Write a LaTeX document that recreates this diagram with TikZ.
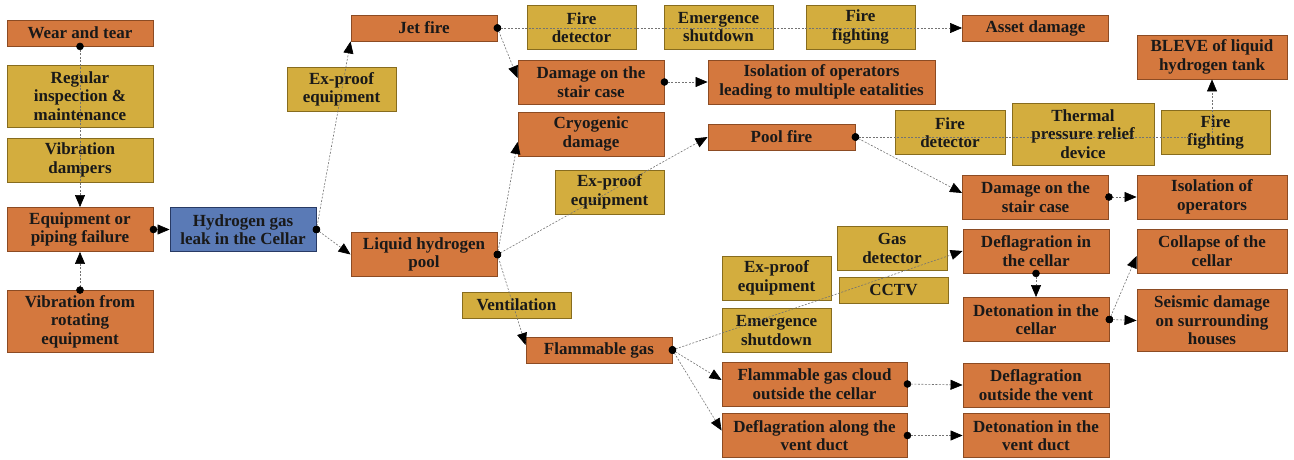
\documentclass[tikz,border=0pt]{standalone}
\usepackage{fontspec}
\setmainfont{Liberation Serif}
\usetikzlibrary{arrows.meta}

\definecolor{hazardfill}{RGB}{212,120,62}
\definecolor{hazardline}{RGB}{140,75,35}
\definecolor{barrierfill}{RGB}{211,173,62}
\definecolor{barrierline}{RGB}{135,108,30}
\definecolor{leakfill}{RGB}{90,122,182}
\definecolor{leakline}{RGB}{40,58,100}

\begin{document}
\begin{tikzpicture}[x=1pt, y=-1pt,
	cell/.style={line width=0.9pt, align=center, inner sep=0pt, minimum width=146pt,
		text=black!90, font=\fontsize{17}{18.5}\selectfont\bfseries},
	hazard/.style={cell, fill=hazardfill, draw=hazardline},
	barrier/.style={cell, fill=barrierfill, draw=barrierline, minimum width=109pt},
	leak/.style={cell, fill=leakfill, draw=leakline},
	h1/.style={minimum height=26pt},
	h2/.style={minimum height=44pt},
	h3/.style={minimum height=62pt},
	link/.style={draw=black!55, line width=0.6pt, dash pattern=on 2pt off 1.5pt,
		{Circle[length=7.5pt, color=black]}-{Triangle[length=12pt, width=10pt, color=black]},
		shorten <=-3.75pt}]
	      	\useasboundingbox (0,0) rectangle (1294,460);

	      	\node[hazard, h1]                     (wear)     at (80,33)      {Wear and tear};
	      	\node[barrier, h3, minimum width=146pt] (regular) at (80,96)      {Regular\\inspection \&\\maintenance};
	      	\node[barrier, h2, minimum width=146pt] (damper)  at (80,160)     {Vibration\\dampers};
	      	\node[hazard, h2]                     (equip)    at (80,229.5)   {Equipment or\\piping failure};
	      	\node[hazard, h3]                     (vibrot)   at (80,321.5)   {Vibration from\\rotating\\equipment};
	      	\node[leak, h2]                       (gasleak)  at (243,229.5)  {Hydrogen gas\\leak in the Cellar};

	      	\node[hazard, h1]                     (jet)      at (424,28)     {Jet fire};
	      	\node[barrier, h2]                    (exp1)     at (341.5,89.5) {Ex-proof\\equipment};
	      	\node[hazard, h2]                     (lhp)      at (424,254.5)  {Liquid hydrogen\\pool};
	      	\node[barrier, h1]                    (vent)     at (516.5,305)  {Ventilation};

	      	\node[barrier, h2]                    (fdet1)    at (581.5,27.5) {Fire\\detector};
	      	\node[barrier, h2]                    (esd1)     at (718.5,27)   {Emergence\\shutdown};
	      	\node[barrier, h2]                    (ffight1)  at (860.5,27)   {Fire\\fighting};
	      	\node[hazard, h1]                     (asset)    at (1035.5,28)  {Asset damage};
	      	\node[hazard, h2]                     (stair1)   at (591,82)     {Damage on the\\stair case};
	      	\node[hazard, h2, minimum width=227pt] (isol1)    at (821.5,82)   {Isolation of operators\\leading to multiple eatalities};
	      	\node[hazard, h2]                     (cryo)     at (591,134)    {Cryogenic\\damage};
	      	\node[barrier, h2]                    (exp2)     at (609.5,192)  {Ex-proof\\equipment};

	      	\node[hazard, h1, minimum width=147pt] (pool)     at (781.5,137)  {Pool fire};
	      	\node[barrier, h2, minimum width=110pt] (fdet2)   at (950,132.5)  {Fire\\detector};
	      	\node[barrier, h3, minimum width=142pt] (thermal) at (1083,134)   {Thermal\\pressure relief\\device};
	      	\node[barrier, h2]                    (ffight2)  at (1215.5,132.5) {Fire\\fighting};
	      	\node[hazard, h2, minimum width=150pt] (bleve)    at (1212,57)    {BLEVE of liquid\\hydrogen tank};
	      	\node[hazard, h2]                     (stair2)   at (1035.5,197) {Damage on the\\stair case};
	      	\node[hazard, h2, minimum width=150pt] (isol2)    at (1212,197)   {Isolation of\\operators};

	      	\node[hazard, h1]                     (flam)     at (599,350)    {Flammable gas};
	      	\node[barrier, h2, minimum width=110pt] (gasdet)  at (892,248.5)  {Gas\\detector};
	      	\node[barrier, h2]                    (exp3)     at (776.5,278)  {Ex-proof\\equipment};
	      	\node[barrier, h1]                    (cctv)     at (893.5,290)  {CCTV};
	      	\node[barrier, h2]                    (esd2)     at (776.5,330.5) {Emergence\\shutdown};
	      	\node[hazard, h2]                     (defcel)   at (1036,251)   {Deflagration in\\the cellar};
	      	\node[hazard, h2]                     (detcel)   at (1036,319.5) {Detonation in the\\cellar};
	      	\node[hazard, h2, minimum width=150pt] (collapse) at (1212,251)   {Collapse of the\\cellar};
	      	\node[hazard, h3, minimum width=150pt] (seismic)  at (1212,320.5) {Seismic damage\\on surrounding\\houses};
	      	\node[hazard, h2, minimum width=185pt] (cloud)    at (814.5,384)  {Flammable gas cloud\\outside the cellar};
	      	\node[hazard, h2, minimum width=185pt] (vduct)    at (814.5,435.5) {Deflagration along the\\vent duct};
	      	\node[hazard, h2]                     (defout)   at (1036,385)   {Deflagration\\outside the vent};
	      	\node[hazard, h2]                     (detduct)  at (1036,435.5) {Detonation in the\\vent duct};

	      	\draw[link] (wear.south) -- (equip.north);
	      	\draw[link] (vibrot.north) -- (equip.south);
	      	\draw[link] (equip.east) -- (gasleak.west);
	      	\draw[link] (gasleak.east) -- (jet.south west);
	      	\draw[link] (gasleak.east) -- (lhp.west);
	      	\draw[link] (jet.east) -- (asset.west);
	      	\draw[link] (jet.east) -- ([yshift=4pt]stair1.west);
	      	\draw[link] (stair1.east) -- (isol1.west);
	      	\draw[link] (lhp.east) -- ([yshift=-8pt]cryo.west);
	      	\draw[link] (lhp.east) -- (pool.west);
	      	\draw[link] (lhp.east) -- ([yshift=5pt]flam.west);
	      	\draw[link] (pool.east) -| (bleve.south);
	      	\draw[link] (pool.east) -- ([yshift=4pt]stair2.west);
	      	\draw[link] (stair2.east) -- (isol2.west);
	      	\draw[link] (flam.east) -- (defcel.west);
	      	\draw[link] (flam.east) -- ([yshift=4pt]cloud.west);
	      	\draw[link] (flam.east) -- ([yshift=5pt]vduct.west);
	      	\draw[link] (defcel.south) -- (detcel.north);
	      	\draw[link] (detcel.east) -- ([yshift=-5pt]collapse.west);
	      	\draw[link] (detcel.east) -- (seismic.west);
	      	\draw[link] (cloud.east) -- (defout.west);
	      	\draw[link] (vduct.east) -- (detduct.west);
	      \end{tikzpicture}
\end{document}
